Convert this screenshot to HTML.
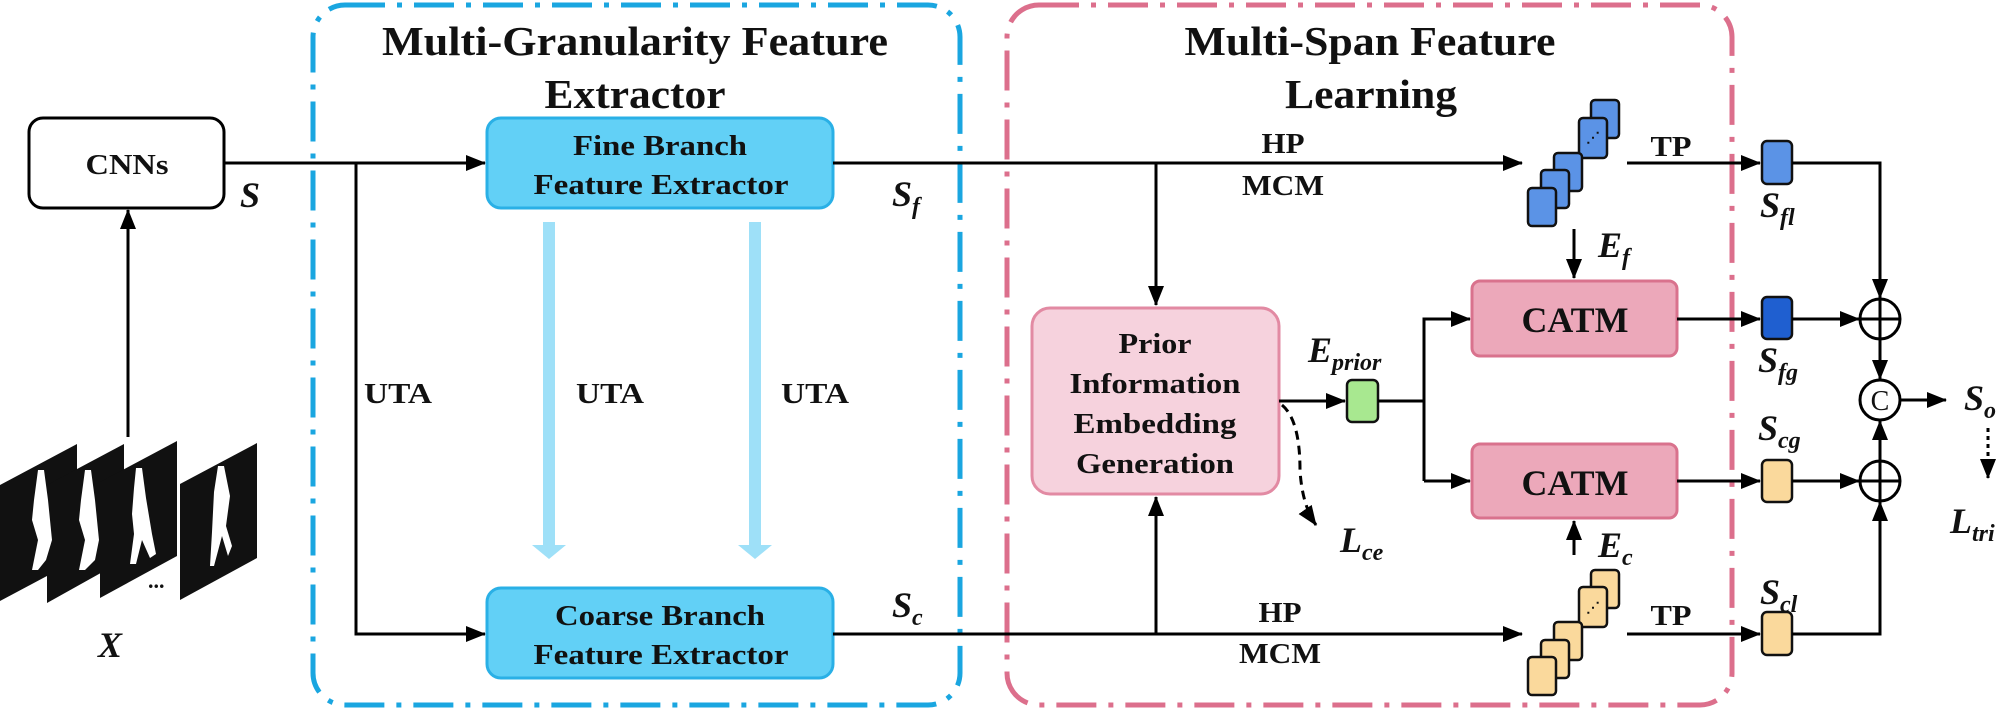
<!DOCTYPE html>
<html><head><meta charset="utf-8">
<style>
html,body{margin:0;padding:0;background:#fff;}
svg{display:block;}
text{font-family:"Liberation Serif",serif;font-weight:bold;fill:#111;}
.t{font-size:29px;text-anchor:middle;}
.h{font-size:41px;text-anchor:middle;}
.m{font-style:italic;font-size:36px;}
.s{font-size:24px;font-style:italic;}
</style></head><body>
<svg width="2016" height="709" viewBox="0 0 2016 709" xmlns="http://www.w3.org/2000/svg">
<defs>
<marker id="ab" markerWidth="20" markerHeight="20" refX="19" refY="10" orient="auto" markerUnits="userSpaceOnUse" viewBox="0 0 20 20">
<path d="M0,2 L20,10 L0,18 z" fill="#000"/></marker>
</defs>
<!-- group boxes -->
<rect x="313" y="5" width="647" height="700" rx="32" fill="none" stroke="#1aa6e0" stroke-width="5" stroke-dasharray="40,12,5,12"/>
<rect x="1007" y="5" width="725" height="700" rx="32" fill="none" stroke="#dc6f8c" stroke-width="5" stroke-dasharray="40,12,5,12"/>
<text class="h" x="635" y="55" textLength="506" lengthAdjust="spacingAndGlyphs">Multi-Granularity Feature</text>
<text class="h" x="635" y="108" textLength="181" lengthAdjust="spacingAndGlyphs">Extractor</text>
<text class="h" x="1370" y="55" textLength="371" lengthAdjust="spacingAndGlyphs">Multi-Span Feature</text>
<text class="h" x="1371" y="108" textLength="172" lengthAdjust="spacingAndGlyphs">Learning</text>

<!-- CNNs -->
<rect x="29" y="118" width="195" height="90" rx="14" fill="#fff" stroke="#000" stroke-width="3"/>
<text class="t" x="127" y="174" textLength="83" lengthAdjust="spacingAndGlyphs">CNNs</text>
<text class="m" x="240" y="207">S</text>
<line x1="128" y1="437" x2="128" y2="210" stroke="#000" stroke-width="3" marker-end="url(#ab)"/>

<!-- frames -->
<g fill="#111">
<polygon points="0,485 77,444 77,560 0,601"/>
<polygon points="47,485 124,444 124,560 47,603"/>
<polygon points="100,482 177,441 177,556 100,598"/>
<polygon points="180,484 257,443 257,558 180,600"/>
</g>
<g fill="#fff">
<path d="M38,470 l6,0 l4,30 l4,40 l-6,20 l-8,10 l-6,0 l6,-30 l-6,-20 l2,-20 z"/>
<path d="M85,470 l6,0 l4,30 l4,40 l-4,20 l-10,10 l-6,0 l6,-30 l-6,-20 l2,-20 z"/>
<path d="M136,468 l6,0 l4,30 l6,36 l4,20 l-6,4 l-8,-18 l-6,24 l-6,0 l4,-30 l-2,-20 l2,-26 z"/>
<path d="M218,466 l6,0 l6,30 l-4,30 l6,20 l-4,10 l-6,-20 l-8,30 l-4,0 l2,-34 l2,-40 z"/>
</g>
<text x="148" y="588" style="font-size:22px">...</text>
<text class="m" x="98" y="657">X</text>

<!-- main lines left -->
<line x1="224" y1="163" x2="485" y2="163" stroke="#000" stroke-width="3" marker-end="url(#ab)"/>
<polyline points="356,163 356,634 485,634" fill="none" stroke="#000" stroke-width="3" marker-end="url(#ab)"/>

<rect x="487" y="118" width="346" height="90" rx="14" fill="#62d0f6" stroke="#2ab0e6" stroke-width="3"/>
<text class="t" x="660" y="155" textLength="174" lengthAdjust="spacingAndGlyphs">Fine Branch</text>
<text class="t" x="661" y="194" textLength="255" lengthAdjust="spacingAndGlyphs">Feature Extractor</text>
<rect x="487" y="588" width="346" height="90" rx="14" fill="#62d0f6" stroke="#2ab0e6" stroke-width="3"/>
<text class="t" x="660" y="625" textLength="210" lengthAdjust="spacingAndGlyphs">Coarse Branch</text>
<text class="t" x="661" y="664" textLength="255" lengthAdjust="spacingAndGlyphs">Feature Extractor</text>

<!-- light arrows -->
<g fill="#9ee0f8">
<polygon points="543,222 555,222 555,545 566,545 549,559 532,545 543,545"/>
<polygon points="749,222 761,222 761,545 772,545 755,559 738,545 749,545"/>
</g>
<text class="t" x="398" y="403" textLength="68" lengthAdjust="spacingAndGlyphs">UTA</text>
<text class="t" x="610" y="403" textLength="68" lengthAdjust="spacingAndGlyphs">UTA</text>
<text class="t" x="815" y="403" textLength="68" lengthAdjust="spacingAndGlyphs">UTA</text>
<text class="m" x="892" y="206">S<tspan class="s" dy="8">f</tspan></text>
<text class="m" x="892" y="617">S<tspan class="s" dy="8">c</tspan></text>

<!-- right lines -->
<line x1="833" y1="163" x2="1522" y2="163" stroke="#000" stroke-width="3" marker-end="url(#ab)"/>
<line x1="833" y1="634" x2="1522" y2="634" stroke="#000" stroke-width="3" marker-end="url(#ab)"/>
<line x1="1156" y1="163" x2="1156" y2="305" stroke="#000" stroke-width="3" marker-end="url(#ab)"/>
<line x1="1156" y1="634" x2="1156" y2="497" stroke="#000" stroke-width="3" marker-end="url(#ab)"/>
<text class="t" x="1283" y="153" textLength="43" lengthAdjust="spacingAndGlyphs">HP</text>
<text class="t" x="1283" y="195" textLength="82" lengthAdjust="spacingAndGlyphs">MCM</text>
<text class="t" x="1280" y="622" textLength="43" lengthAdjust="spacingAndGlyphs">HP</text>
<text class="t" x="1280" y="663" textLength="82" lengthAdjust="spacingAndGlyphs">MCM</text>

<rect x="1032" y="308" width="247" height="186" rx="18" fill="#f6d2dd" stroke="#e28aa3" stroke-width="3"/>
<text class="t" x="1155" y="353" textLength="73" lengthAdjust="spacingAndGlyphs">Prior</text>
<text class="t" x="1155" y="393" textLength="171" lengthAdjust="spacingAndGlyphs">Information</text>
<text class="t" x="1155" y="433" textLength="163" lengthAdjust="spacingAndGlyphs">Embedding</text>
<text class="t" x="1155" y="473" textLength="158" lengthAdjust="spacingAndGlyphs">Generation</text>

<line x1="1279" y1="401" x2="1345" y2="401" stroke="#000" stroke-width="3" marker-end="url(#ab)"/>
<rect x="1347" y="380" width="31" height="42" rx="5" fill="#a8e890" stroke="#111" stroke-width="2.5"/>
<text class="m" x="1308" y="362">E<tspan class="s" dy="8">prior</tspan></text>
<path d="M1282,405 Q1300,420 1300,470 Q1302,505 1316,525" fill="none" stroke="#000" stroke-width="3" stroke-dasharray="9,6" marker-end="url(#ab)"/>
<text class="m" x="1340" y="552">L<tspan class="s" dy="8">ce</tspan></text>
<polyline points="1378,401 1424,401" fill="none" stroke="#000" stroke-width="3"/>
<polyline points="1424,481 1424,319 1470,319" fill="none" stroke="#000" stroke-width="3" marker-end="url(#ab)"/>
<polyline points="1424,481 1470,481" fill="none" stroke="#000" stroke-width="3" marker-end="url(#ab)"/>

<rect x="1472" y="281" width="205" height="75" rx="8" fill="#eca8ba" stroke="#d9728d" stroke-width="3"/>
<text class="t" x="1575" y="332" style="font-size:36px" textLength="107" lengthAdjust="spacingAndGlyphs">CATM</text>
<rect x="1472" y="444" width="205" height="74" rx="8" fill="#eca8ba" stroke="#d9728d" stroke-width="3"/>
<text class="t" x="1575" y="495" style="font-size:36px" textLength="107" lengthAdjust="spacingAndGlyphs">CATM</text>

<!-- blue stack -->
<g fill="#5b93e6" stroke="#111" stroke-width="2.5">
<rect x="1591" y="100" width="28" height="38" rx="4"/>
<rect x="1579" y="118" width="28" height="40" rx="4"/>
<rect x="1554" y="153" width="28" height="38" rx="4"/>
<rect x="1541" y="170" width="28" height="38" rx="4"/>
<rect x="1528" y="188" width="28" height="38" rx="4"/>
</g>
<text x="1586" y="142" style="font-size:14px">⋰</text>
<!-- yellow stack -->
<g fill="#fad99c" stroke="#111" stroke-width="2.5">
<rect x="1591" y="570" width="28" height="38" rx="4"/>
<rect x="1579" y="587" width="28" height="40" rx="4"/>
<rect x="1554" y="622" width="28" height="38" rx="4"/>
<rect x="1541" y="640" width="28" height="38" rx="4"/>
<rect x="1528" y="657" width="28" height="38" rx="4"/>
</g>
<text x="1586" y="612" style="font-size:14px">⋰</text>

<line x1="1574" y1="229" x2="1574" y2="278" stroke="#000" stroke-width="3" marker-end="url(#ab)"/>
<text class="m" x="1598" y="257">E<tspan class="s" dy="8">f</tspan></text>
<line x1="1574" y1="555" x2="1574" y2="521" stroke="#000" stroke-width="3" marker-end="url(#ab)"/>
<text class="m" x="1598" y="557">E<tspan class="s" dy="8">c</tspan></text>

<line x1="1627" y1="163" x2="1760" y2="163" stroke="#000" stroke-width="3" marker-end="url(#ab)"/>
<line x1="1627" y1="634" x2="1760" y2="634" stroke="#000" stroke-width="3" marker-end="url(#ab)"/>
<text class="t" x="1671" y="156" textLength="41" lengthAdjust="spacingAndGlyphs">TP</text>
<text class="t" x="1671" y="625" textLength="41" lengthAdjust="spacingAndGlyphs">TP</text>
<line x1="1677" y1="319" x2="1760" y2="319" stroke="#000" stroke-width="3" marker-end="url(#ab)"/>
<line x1="1677" y1="481" x2="1760" y2="481" stroke="#000" stroke-width="3" marker-end="url(#ab)"/>

<rect x="1762" y="141" width="30" height="43" rx="5" fill="#5b93e6" stroke="#111" stroke-width="2.5"/>
<rect x="1762" y="297" width="30" height="42" rx="5" fill="#1f5fd0" stroke="#111" stroke-width="2.5"/>
<rect x="1762" y="460" width="30" height="42" rx="5" fill="#fad99c" stroke="#111" stroke-width="2.5"/>
<rect x="1762" y="612" width="30" height="43" rx="5" fill="#fad99c" stroke="#111" stroke-width="2.5"/>
<text class="m" x="1760" y="217">S<tspan class="s" dy="8">fl</tspan></text>
<text class="m" x="1758" y="372">S<tspan class="s" dy="8">fg</tspan></text>
<text class="m" x="1758" y="440">S<tspan class="s" dy="8">cg</tspan></text>
<text class="m" x="1760" y="604">S<tspan class="s" dy="8">cl</tspan></text>

<polyline points="1792,163 1880,163 1880,298" fill="none" stroke="#000" stroke-width="3" marker-end="url(#ab)"/>
<line x1="1792" y1="319" x2="1859" y2="319" stroke="#000" stroke-width="3" marker-end="url(#ab)"/>
<line x1="1792" y1="481" x2="1859" y2="481" stroke="#000" stroke-width="3" marker-end="url(#ab)"/>
<polyline points="1792,634 1880,634 1880,502" fill="none" stroke="#000" stroke-width="3" marker-end="url(#ab)"/>
<line x1="1880" y1="340" x2="1880" y2="379" stroke="#000" stroke-width="3" marker-end="url(#ab)"/>
<line x1="1880" y1="460" x2="1880" y2="421" stroke="#000" stroke-width="3" marker-end="url(#ab)"/>
<g fill="#fff" stroke="#000" stroke-width="3">
<circle cx="1880" cy="319" r="20"/>
<circle cx="1880" cy="481" r="20"/>
<circle cx="1880" cy="400" r="20"/>
</g>
<path d="M1860,319 H1900 M1880,299 V339 M1860,481 H1900 M1880,461 V501" stroke="#000" stroke-width="3"/>
<text x="1880" y="410" style="font-size:28px;font-weight:normal;text-anchor:middle">C</text>
<line x1="1900" y1="400" x2="1946" y2="400" stroke="#000" stroke-width="3" marker-end="url(#ab)"/>
<text class="m" x="1964" y="410">S<tspan class="s" dy="8">o</tspan></text>
<line x1="1988" y1="428" x2="1988" y2="478" stroke="#000" stroke-width="3" stroke-dasharray="4,4" marker-end="url(#ab)"/>
<text class="m" x="1950" y="533">L<tspan class="s" dy="8">tri</tspan></text>
</svg>
</body></html>
